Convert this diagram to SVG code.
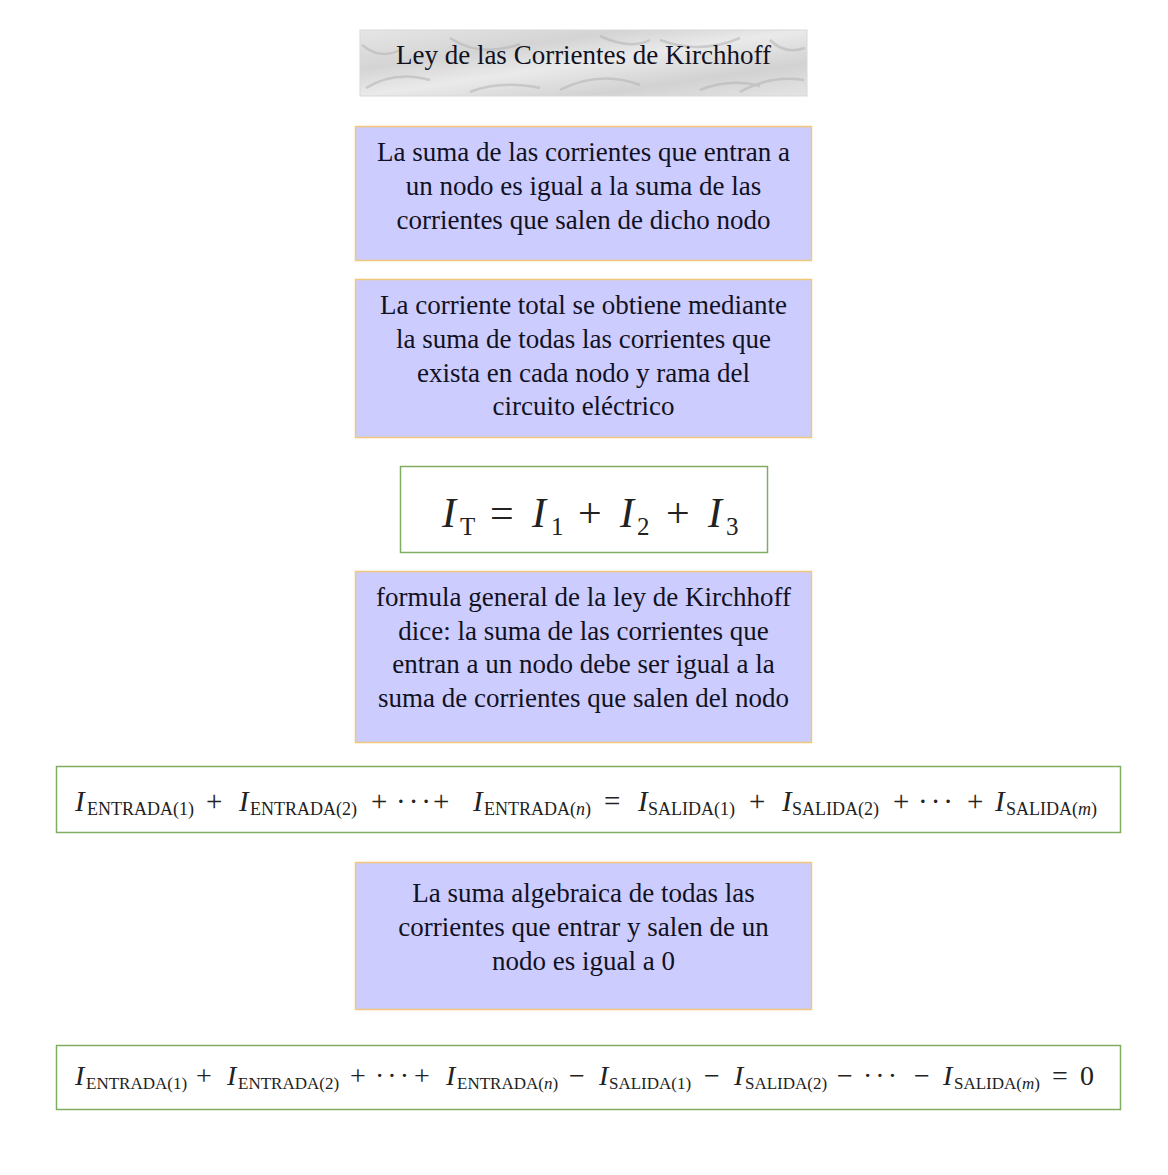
<svg xmlns="http://www.w3.org/2000/svg" width="1168" height="1175" viewBox="0 0 1168 1175">
<defs>
<style>
.box{fill:#ccccff;stroke:#f2c878;stroke-width:1.5}
.eq{fill:#ffffff;stroke:#7fae62;stroke-width:1.5}
.t{font-family:"Liberation Serif","Times New Roman",serif;font-size:27px;fill:#111122;text-anchor:middle}
.m{font-family:"Liberation Serif","Times New Roman",serif;fill:#222}
.mi{font-style:italic}
.sub{font-size:18px}
.sub2{font-size:17px}
.dots{letter-spacing:3px}
</style>
<linearGradient id="marble" x1="0" y1="0" x2="1" y2="1">
<stop offset="0" stop-color="#e6e6e6"/>
<stop offset="0.3" stop-color="#d4d4d4"/>
<stop offset="0.5" stop-color="#eaeaea"/>
<stop offset="0.75" stop-color="#d2d2d2"/>
<stop offset="1" stop-color="#e4e4e4"/>
</linearGradient>
</defs>
<rect width="1168" height="1175" fill="#ffffff"/>
<g id="title">
<rect x="360" y="30" width="447" height="66" fill="url(#marble)" stroke="#d8d8d8" stroke-width="1"/>
<g stroke="#b4b4b4" stroke-width="2.5" fill="none" opacity="0.55">
<path d="M366 88 Q395 70 430 80"/>
<path d="M450 38 Q480 58 520 44"/>
<path d="M470 92 Q500 80 540 88"/>
<path d="M560 90 Q600 70 640 85"/>
<path d="M600 36 Q630 50 650 40"/>
<path d="M660 40 Q700 55 740 38"/>
<path d="M700 90 Q730 78 760 86"/>
<path d="M740 92 Q770 75 804 80"/>
<path d="M362 45 Q380 60 400 50"/>
<path d="M770 40 Q785 55 805 48"/>
</g>
<text class="t" x="583.5" y="64" fill="#111">Ley de las Corrientes de Kirchhoff</text>
</g>
<g id="n1">
<rect class="box" x="355.5" y="126.5" width="456" height="134"/>
<text class="t" x="583.5" y="161">La suma de las corrientes que entran a</text>
<text class="t" x="583.5" y="195">un nodo es igual a la suma de las</text>
<text class="t" x="583.5" y="229">corrientes que salen de dicho nodo</text>
</g>
<g id="n2">
<rect class="box" x="355.5" y="279.5" width="456" height="158"/>
<text class="t" x="583.5" y="314">La corriente total se obtiene mediante</text>
<text class="t" x="583.5" y="348">la suma de todas las corrientes que</text>
<text class="t" x="583.5" y="382">exista en cada nodo y rama del</text>
<text class="t" x="583.5" y="415">circuito eléctrico</text>
</g>
<g id="f1">
<rect class="eq" x="400.5" y="466.5" width="367" height="86"/>
<text class="m" font-size="42" y="527"><tspan class="mi" x="442">I</tspan><tspan x="460" y="535" font-size="25">T</tspan><tspan x="490" y="527">=</tspan><tspan class="mi" x="532">I</tspan><tspan x="551" y="535" font-size="25">1</tspan><tspan x="578" y="527">+</tspan><tspan class="mi" x="620">I</tspan><tspan x="637" y="535" font-size="25">2</tspan><tspan x="666" y="527">+</tspan><tspan class="mi" x="708">I</tspan><tspan x="726" y="535" font-size="25">3</tspan></text>
</g>
<g id="n3">
<rect class="box" x="355.5" y="571.5" width="456" height="171"/>
<text class="t" x="583.5" y="606">formula general de la ley de Kirchhoff</text>
<text class="t" x="583.5" y="640">dice: la suma de las corrientes que</text>
<text class="t" x="583.5" y="673">entran a un nodo debe ser igual a la</text>
<text class="t" x="583.5" y="707">suma de corrientes que salen del nodo</text>
</g>
<g id="f2">
<rect class="eq" x="56.5" y="766.5" width="1064" height="66"/>
<text class="m" font-size="29" y="811"><tspan class="mi" x="75">I</tspan><tspan class="sub" x="87" y="815">ENTRADA(1)</tspan><tspan x="206" y="811">+</tspan><tspan class="mi" x="239">I</tspan><tspan class="sub" x="250" y="815">ENTRADA(2)</tspan><tspan x="371" y="811">+</tspan><tspan class="dots" x="396" y="811">···</tspan><tspan x="433" y="811">+</tspan><tspan class="mi" x="473">I</tspan><tspan class="sub" x="484" y="815">ENTRADA(<tspan class="mi">n</tspan>)</tspan><tspan x="604" y="811">=</tspan><tspan class="mi" x="638">I</tspan><tspan class="sub" x="648" y="815">SALIDA(1)</tspan><tspan x="749" y="811">+</tspan><tspan class="mi" x="782">I</tspan><tspan class="sub" x="792" y="815">SALIDA(2)</tspan><tspan x="893" y="811">+</tspan><tspan class="dots" x="918" y="811">···</tspan><tspan x="967" y="811">+</tspan><tspan class="mi" x="995">I</tspan><tspan class="sub" x="1006" y="815">SALIDA(<tspan class="mi">m</tspan>)</tspan></text>
</g>
<g id="n4">
<rect class="box" x="355.5" y="862.5" width="456" height="147"/>
<text class="t" x="583.5" y="902">La suma algebraica de todas las</text>
<text class="t" x="583.5" y="936">corrientes que entrar y salen de un</text>
<text class="t" x="583.5" y="970">nodo es igual a 0</text>
</g>
<g id="f3">
<rect class="eq" x="56.5" y="1045.5" width="1064" height="64"/>
<text class="m" font-size="28" y="1085"><tspan class="mi" x="75">I</tspan><tspan class="sub2" x="86" y="1089">ENTRADA(1)</tspan><tspan x="196" y="1085">+</tspan><tspan class="mi" x="227">I</tspan><tspan class="sub2" x="238" y="1089">ENTRADA(2)</tspan><tspan x="350" y="1085">+</tspan><tspan class="dots" x="375" y="1085">···</tspan><tspan x="414" y="1085">+</tspan><tspan class="mi" x="446">I</tspan><tspan class="sub2" x="457" y="1089">ENTRADA(<tspan class="mi">n</tspan>)</tspan><tspan x="569" y="1085">−</tspan><tspan class="mi" x="599">I</tspan><tspan class="sub2" x="609" y="1089">SALIDA(1)</tspan><tspan x="704" y="1085">−</tspan><tspan class="mi" x="734">I</tspan><tspan class="sub2" x="745" y="1089">SALIDA(2)</tspan><tspan x="837" y="1085">−</tspan><tspan class="dots" x="863" y="1085">···</tspan><tspan x="914" y="1085">−</tspan><tspan class="mi" x="943">I</tspan><tspan class="sub2" x="954" y="1089">SALIDA(<tspan class="mi">m</tspan>)</tspan><tspan x="1052" y="1085">=</tspan><tspan x="1080" y="1085">0</tspan></text>
</g>
<g id="connectors"></g>
</svg>
